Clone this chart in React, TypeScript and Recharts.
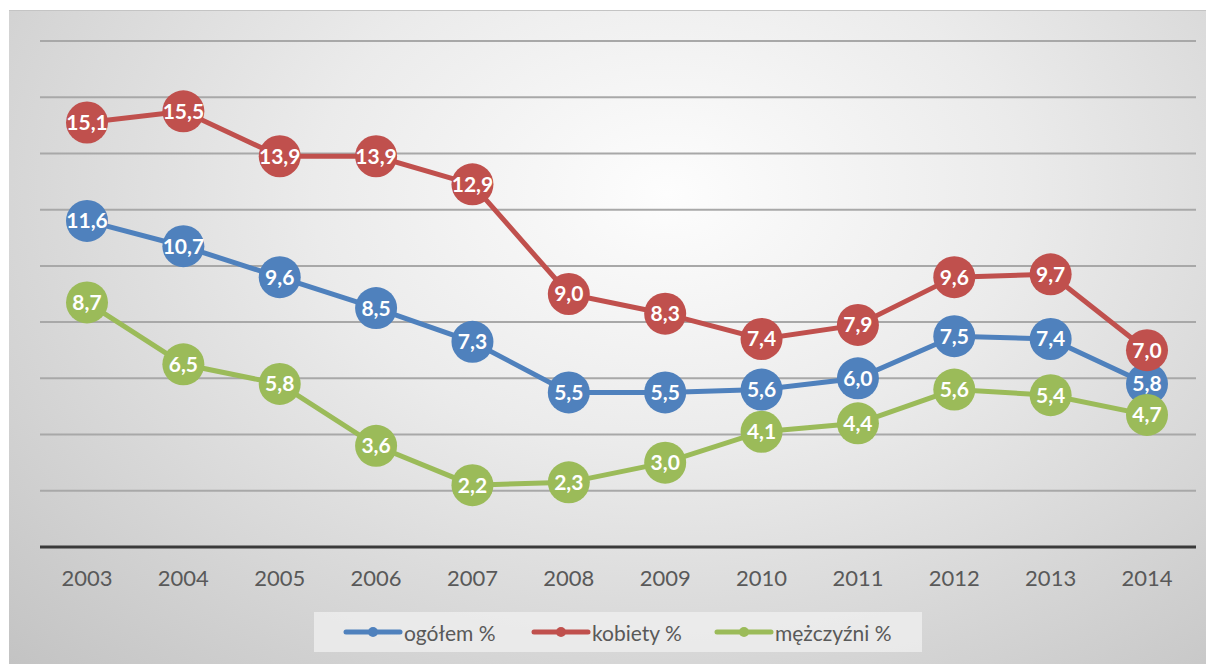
import React from 'react';
import { LineChart, Line, XAxis, YAxis, CartesianGrid, LabelList, Legend } from 'recharts';

const years = ['2003','2004','2005','2006','2007','2008','2009','2010','2011','2012','2013','2014'];
const ogolem = [11.6, 10.7, 9.6, 8.5, 7.3, 5.5, 5.5, 5.6, 6.0, 7.5, 7.4, 5.8];
const kobiety = [15.1, 15.5, 13.9, 13.9, 12.9, 9.0, 8.3, 7.4, 7.9, 9.6, 9.7, 7.0];
const mezczyzni = [8.7, 6.5, 5.8, 3.6, 2.2, 2.3, 3.0, 4.1, 4.4, 5.6, 5.4, 4.7];
const yTicks = [0, 2, 4, 6, 8, 10, 12, 14, 16, 18];

const seriesDefs = [
  { key: 'ogolem', name: 'ogółem %', color: '#4F81BD' },
  { key: 'kobiety', name: 'kobiety %', color: '#C0504D' },
  { key: 'mezczyzni', name: 'mężczyźni %', color: '#9BBB59' },
];

const data = years.map((y, i) => ({ year: y, ogolem: ogolem[i], kobiety: kobiety[i], mezczyzni: mezczyzni[i] }));

const FONT = 'Lato, "Open Sans", sans-serif';
const fmt = (v: any) => Number(v).toFixed(1).replace('.', ',');
const legendOffsets = [29, 217, 400];

const makeDot = (color: string) => (props: any) => {
  const { cx, cy, index } = props;
  if (cx == null || cy == null) return null;
  return <circle key={index} cx={cx} cy={cy} r={21} fill={color} />;
};

const LegendContent = () => (
  <div style={{
    position: 'relative', width: 608, height: 40, background: 'rgba(240,240,240,0.75)',
    fontFamily: FONT, fontSize: 21, color: '#595959', whiteSpace: 'nowrap',
  }}>
    {seriesDefs.map((s, i) => (
      <div key={s.key} style={{ position: 'absolute', left: legendOffsets[i], top: 0, height: 40, display: 'flex', alignItems: 'center' }}>
        <svg width={60} height={12} style={{ marginRight: 1 }}>
          <line x1={3} y1={6} x2={57} y2={6} stroke={s.color} strokeWidth={5} strokeLinecap="round" />
          <circle cx={30} cy={6} r={5} fill={s.color} />
        </svg>
        <span>{s.name}</span>
      </div>
    ))}
  </div>
);

export default function App() {
  return (
    <div style={{
      position: 'absolute', left: 9, top: 10, width: 1197, height: 654,
      background: 'radial-gradient(ellipse farthest-corner at 55% 28%, #fdfdfd 0%, #ebebeb 38%, #c3c3c3 100%)',
      borderTop: '1px solid #c4c4c4', boxSizing: 'border-box',
    }}>
      <LineChart width={1197} height={653} data={data} margin={{ top: 30, right: 10, left: 31, bottom: 37 }}>
        <CartesianGrid vertical={false} stroke="#a8a8a8" strokeWidth={2} />
        <YAxis hide domain={[0, 18]} ticks={yTicks} />
        <XAxis
          dataKey="year"
          padding={{ left: 47, right: 49 }}
          axisLine={{ stroke: '#3a3a3a', strokeWidth: 3 }}
          tickLine={false}
          tick={{ fill: '#595959', fontSize: 22, fontFamily: FONT }}
          tickMargin={17}
          height={40}
        />
        <Legend
          verticalAlign="bottom"
          content={<LegendContent />}
          wrapperStyle={{ position: 'absolute', left: 305, top: 601, width: 608, height: 40 }}
        />
        {seriesDefs.map((s) => (
          <Line
            key={s.key}
            dataKey={s.key}
            name={s.name}
            stroke={s.color}
            strokeWidth={5}
            dot={makeDot(s.color)}
            activeDot={false}
            isAnimationActive={false}
          >
            <LabelList
              dataKey={s.key}
              position="center"
              formatter={fmt}
              fill="#ffffff"
              style={{ fontFamily: FONT, fontWeight: 700, fontSize: 21 }}
            />
          </Line>
        ))}
      </LineChart>
    </div>
  );
}
